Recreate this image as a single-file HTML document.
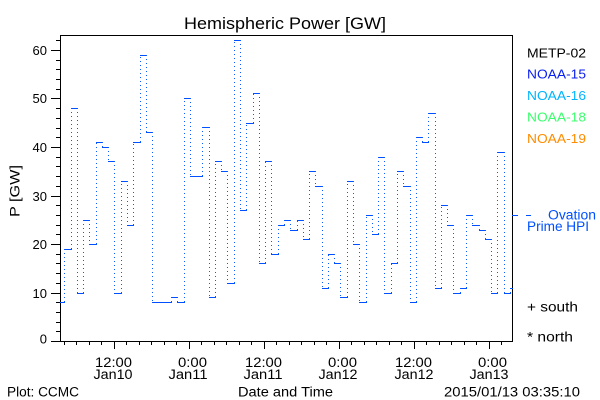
<!DOCTYPE html>
<html><head><meta charset="utf-8"><style>
html,body{margin:0;padding:0;background:#fff;}
svg{display:block;}
text{font-family:"Liberation Sans",sans-serif;}
</style></head><body>
<svg width="600" height="400" viewBox="0 0 600 400" xmlns="http://www.w3.org/2000/svg">
<rect width="600" height="400" fill="#fff"/>
<text x="184" y="29" font-size="17" textLength="202" lengthAdjust="spacingAndGlyphs">Hemispheric Power [GW]</text>
<g stroke="#000" stroke-width="1" fill="none" shape-rendering="crispEdges">
<rect x="60.5" y="35.5" width="452" height="306"/>
<path d="M51,341.5H60M51,293.5H60M51,244.5H60M51,196.5H60M51,147.5H60M51,98.5H60M51,50.5H60"/>
<path d="M56,331.5H60M56,322.5H60M56,312.5H60M56,302.5H60M56,283.5H60M56,273.5H60M56,263.5H60M56,254.5H60M56,234.5H60M56,225.5H60M56,215.5H60M56,205.5H60M56,186.5H60M56,176.5H60M56,166.5H60M56,157.5H60M56,137.5H60M56,128.5H60M56,118.5H60M56,108.5H60M56,89.5H60M56,79.5H60M56,69.5H60M56,60.5H60M56,40.5H60"/>
<path d="M114.5,341V349M189.5,341V349M264.5,341V349M339.5,341V349M414.5,341V349M489.5,341V349"/>
<path d="M64.5,341V345M76.5,341V345M89.5,341V345M101.5,341V345M126.5,341V345M139.5,341V345M151.5,341V345M164.5,341V345M176.5,341V345M201.5,341V345M214.5,341V345M226.5,341V345M239.5,341V345M251.5,341V345M276.5,341V345M289.5,341V345M301.5,341V345M314.5,341V345M326.5,341V345M351.5,341V345M364.5,341V345M376.5,341V345M389.5,341V345M401.5,341V345M426.5,341V345M439.5,341V345M451.5,341V345M464.5,341V345M476.5,341V345M501.5,341V345"/>
</g>
<g font-size="13" text-anchor="end">
<text x="47" y="55">60</text>
<text x="47" y="103">50</text>
<text x="47" y="152">40</text>
<text x="47" y="201">30</text>
<text x="47" y="249">20</text>
<text x="47" y="298">10</text>
<text x="47" y="343.5">0</text>
</g>
<text transform="translate(19.5,191) rotate(-90)" font-size="14" text-anchor="middle" textLength="52" lengthAdjust="spacingAndGlyphs">P [GW]</text>
<g font-size="13.5" text-anchor="end">
<text x="132" y="367" textLength="37" lengthAdjust="spacingAndGlyphs">12:00</text>
<text x="207" y="367" textLength="29" lengthAdjust="spacingAndGlyphs">0:00</text>
<text x="282" y="367" textLength="37" lengthAdjust="spacingAndGlyphs">12:00</text>
<text x="357" y="367" textLength="29" lengthAdjust="spacingAndGlyphs">0:00</text>
<text x="432" y="367" textLength="37" lengthAdjust="spacingAndGlyphs">12:00</text>
<text x="507" y="367" textLength="29" lengthAdjust="spacingAndGlyphs">0:00</text>
</g>
<g font-size="13.5" text-anchor="middle">
<text x="113" y="379" textLength="39" lengthAdjust="spacingAndGlyphs">Jan10</text>
<text x="188" y="379" textLength="39" lengthAdjust="spacingAndGlyphs">Jan11</text>
<text x="263" y="379" textLength="39" lengthAdjust="spacingAndGlyphs">Jan11</text>
<text x="338" y="379" textLength="39" lengthAdjust="spacingAndGlyphs">Jan12</text>
<text x="414" y="379" textLength="39" lengthAdjust="spacingAndGlyphs">Jan12</text>
<text x="489" y="379" textLength="39" lengthAdjust="spacingAndGlyphs">Jan13</text>
</g>
<g font-size="13.5">
<text x="7" y="396.5" textLength="72" lengthAdjust="spacingAndGlyphs">Plot: CCMC</text>
<text x="238" y="396.5" textLength="95" lengthAdjust="spacingAndGlyphs">Date and Time</text>
<text x="444" y="396.5" textLength="136" lengthAdjust="spacingAndGlyphs">2015/01/13 03:35:10</text>
</g>
<g font-size="12.5">
<text x="527" y="57.5" fill="#000" textLength="59" lengthAdjust="spacingAndGlyphs">METP-02</text>
<text x="527" y="78.5" fill="#0a1ef0" textLength="59" lengthAdjust="spacingAndGlyphs">NOAA-15</text>
<text x="527" y="100" fill="#00b4ff" textLength="59" lengthAdjust="spacingAndGlyphs">NOAA-16</text>
<text x="527" y="121.5" fill="#3cff6e" textLength="59" lengthAdjust="spacingAndGlyphs">NOAA-18</text>
<text x="527" y="143" fill="#ff8c00" textLength="59" lengthAdjust="spacingAndGlyphs">NOAA-19</text>
</g>
<g stroke="#0050ff" stroke-width="1" shape-rendering="crispEdges">
<path d="M512,215.5H518M526,215.5H531"/>
</g>
<g font-size="13.5" fill="#0050ff">
<text x="548" y="219.5" textLength="48" lengthAdjust="spacingAndGlyphs">Ovation</text>
<text x="527" y="231" textLength="62" lengthAdjust="spacingAndGlyphs">Prime HPI</text>
</g>
<g font-size="13.5" fill="#000">
<text x="527" y="311.5" textLength="51" lengthAdjust="spacingAndGlyphs">+ south</text>
<text x="527" y="341.5" textLength="46" lengthAdjust="spacingAndGlyphs">* north</text>
</g>
<path fill="none" stroke="#0050ff" stroke-width="1" shape-rendering="crispEdges" d="M60,302.5H65M64,249.5H72M71,108.5H78M77,293.5H84M83,220.5H90M89,244.5H97M96,142.5H103M102,147.5H109M108,161.5H115M114,293.5H122M121,181.5H128M127,225.5H134M133,142.5H141M140,55.5H147M146,132.5H153M152,302.5H172M171,297.5H178M177,302.5H185M184,98.5H191M190,176.5H203M202,127.5H210M209,297.5H216M215,161.5H222M221,171.5H228M227,283.5H235M234,40.5H241M240,210.5H247M246,123.5H254M253,93.5H260M259,263.5H266M265,161.5H272M271,254.5H279M278,225.5H285M284,220.5H291M290,230.5H298M297,220.5H304M303,239.5H310M309,171.5H316M315,186.5H323M322,288.5H329M328,254.5H335M334,263.5H341M340,297.5H348M347,181.5H354M353,244.5H360M359,302.5H367M366,215.5H373M372,234.5H379M378,157.5H385M384,293.5H392M391,263.5H398M397,171.5H404M403,186.5H411M410,302.5H417M416,137.5H423M422,142.5H429M428,113.5H436M435,288.5H442M441,205.5H448M447,225.5H454M453,293.5H461M460,288.5H467M466,215.5H473M472,225.5H480M479,230.5H486M485,239.5H492M491,293.5H498M497,152.5H505M504,293.5H511M510,288.5H513"/>
<path fill="none" stroke="#0a5cff" stroke-width="1" stroke-dasharray="1 3" shape-rendering="crispEdges" d="M64.5,302V249M71.5,249V108M77.5,108V293M83.5,293V220M89.5,220V244M96.5,244V142M102.5,142V147M108.5,147V161M114.5,161V293M121.5,293V181M127.5,181V225M133.5,225V142M140.5,142V55M146.5,55V132M152.5,132V302M171.5,302V297M177.5,297V302M184.5,302V98M190.5,98V176M202.5,176V127M209.5,127V297M215.5,297V161M221.5,161V171M227.5,171V283M234.5,283V40M240.5,40V210M246.5,210V123M253.5,123V93M259.5,93V263M265.5,263V161M271.5,161V254M278.5,254V225M284.5,225V220M290.5,220V230M297.5,230V220M303.5,220V239M309.5,239V171M315.5,171V186M322.5,186V288M328.5,288V254M334.5,254V263M340.5,263V297M347.5,297V181M353.5,181V244M359.5,244V302M366.5,302V215M372.5,215V234M378.5,234V157M384.5,157V293M391.5,293V263M397.5,263V171M403.5,171V186M410.5,186V302M416.5,302V137M422.5,137V142M428.5,142V113M435.5,113V288M441.5,288V205M447.5,205V225M453.5,225V293M460.5,293V288M466.5,288V215M472.5,215V225M479.5,225V230M485.5,230V239M491.5,239V293M497.5,293V152M504.5,152V293M510.5,293V288"/>
</svg>
</body></html>
